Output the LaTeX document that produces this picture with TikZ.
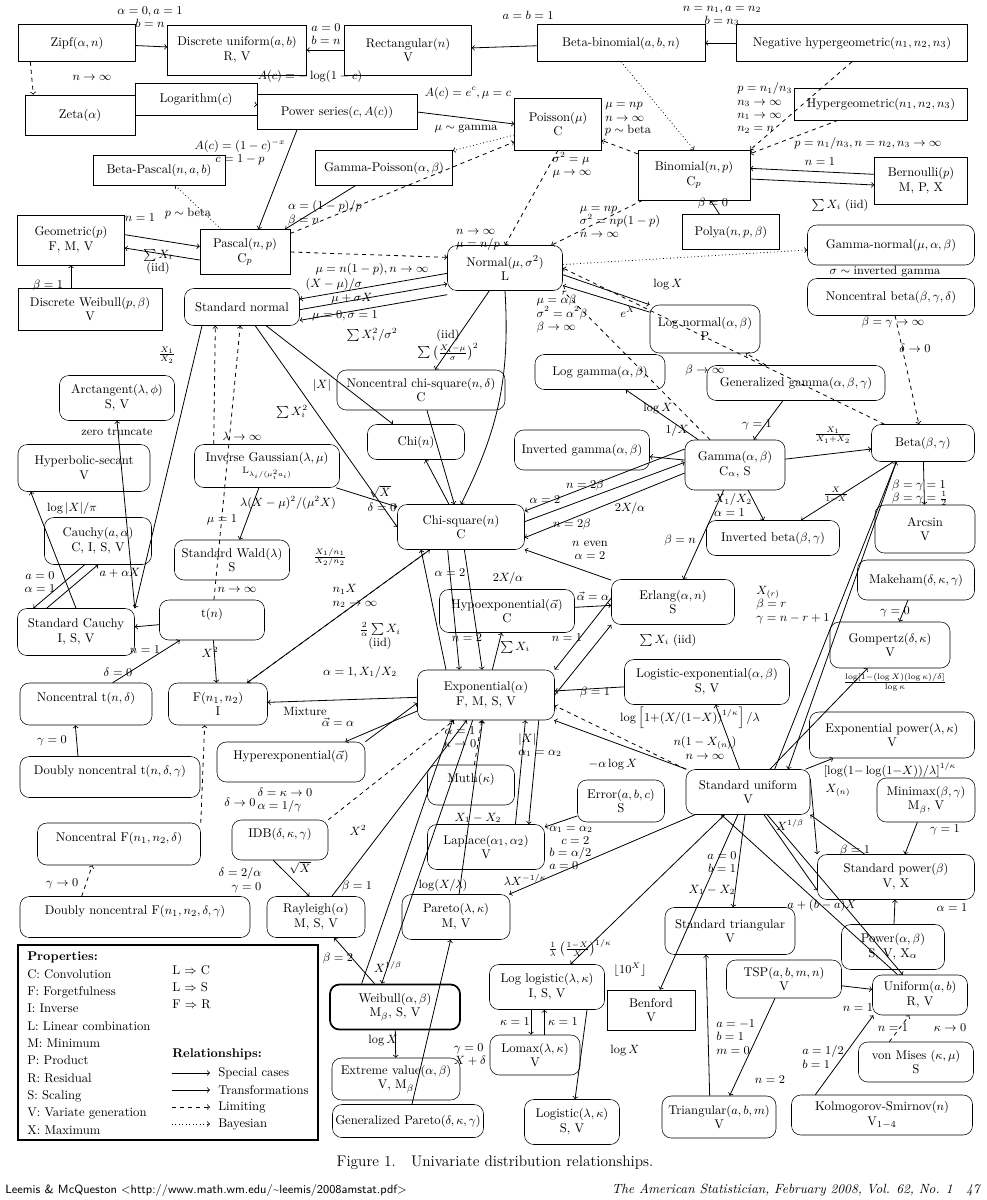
\documentclass[tikz,border=0pt]{standalone}
\usepackage{amsmath}
\usetikzlibrary{arrows.meta}
\tikzset{
  sb/.style={draw,inner sep=1pt,align=center,font=\fontsize{9.5}{11}\selectfont},
  rb/.style={sb,rounded corners=7pt},
  lb/.style={inner sep=0pt,font=\fontsize{9}{10}\selectfont,align=center},
  sc/.style={->,semithick},
  lim/.style={->,semithick,dashed},
  bay/.style={->,semithick,dotted}}
\begin{document}
\begin{tikzpicture}[x=0.75pt,y=-0.75pt,>=to]
\useasboundingbox (0,0) rectangle (987,1200);
% ---------- nodes ----------
\node[sb,minimum width=117*.75pt,minimum height=37*.75pt] (zipf) at (77,43) {Zipf$(\alpha,n)$};
\node[sb,minimum width=139*.75pt,minimum height=50*.75pt] (dunif) at (237,50) {Discrete uniform$(a,b)$\\R, V};
\node[sb,minimum width=127*.75pt,minimum height=50*.75pt] (rect) at (408,50) {Rectangular$(n)$\\V};
\node[sb,minimum width=168*.75pt,minimum height=37*.75pt] (bbin) at (621,43) {Beta-binomial$(a,b,n)$};
\node[sb,minimum width=231*.75pt,minimum height=37*.75pt] (neghyp) at (852,43) {Negative hypergeometric$(n_1,n_2,n_3)$};
\node[sb,minimum width=110*.75pt,minimum height=40*.75pt] (zeta) at (80,115) {Zeta$(\alpha)$};
\node[sb,minimum width=122*.75pt,minimum height=32*.75pt] (loga) at (196,99) {Logarithm$(c)$};
\node[sb,minimum width=160*.75pt,minimum height=35*.75pt] (pser) at (337,112) {Power series$(c,A(c))$};
\node[sb,minimum width=87*.75pt,minimum height=52*.75pt] (pois) at (558,124) {Poisson$(\mu)$\\C};
\node[sb,minimum width=173*.75pt,minimum height=32*.75pt] (hyper) at (881,104) {Hypergeometric$(n_1,n_2,n_3)$};
\node[sb,minimum width=137*.75pt,minimum height=35*.75pt] (gp) at (384,168) {Gamma-Poisson$(\alpha,\beta)$};
\node[sb,minimum width=132*.75pt,minimum height=30*.75pt] (bpas) at (159,170) {Beta-Pascal$(n,a,b)$};
\node[sb,minimum width=112*.75pt,minimum height=50*.75pt] (binom) at (694,175) {Binomial$(n,p)$\\C$_p$};
\node[sb,minimum width=93*.75pt,minimum height=47*.75pt] (bern) at (921,181) {Bernoulli$(p)$\\M, P, X};
\node[sb,minimum width=107*.75pt,minimum height=50*.75pt] (geom) at (71,240) {Geometric$(p)$\\F, M, V};
\node[sb,minimum width=90*.75pt,minimum height=45*.75pt] (pascal) at (245,252) {Pascal$(n,p)$\\C$_p$};
\node[sb,minimum width=97*.75pt,minimum height=35*.75pt] (polya) at (731,232) {Polya$(n,p,\beta)$};
\node[sb,minimum width=144*.75pt,minimum height=42*.75pt] (dweib) at (90,309) {Discrete Weibull$(p,\beta)$\\V};
\node[rb,minimum width=115*.75pt,minimum height=45*.75pt] (normal) at (505,268) {Normal$(\mu,\sigma^2)$\\L};
\node[rb,minimum width=167*.75pt,minimum height=40*.75pt] (gnorm) at (891,245) {Gamma-normal$(\mu,\alpha,\beta)$};
\node[rb,minimum width=115*.75pt,minimum height=37*.75pt] (snorm) at (242,307) {Standard normal};
\node[rb,minimum width=167*.75pt,minimum height=37*.75pt] (ncbeta) at (891,297) {Noncentral beta$(\beta,\gamma,\delta)$};
\node[rb,minimum width=110*.75pt,minimum height=48*.75pt] (lnorm) at (705,329) {Log normal$(\alpha,\beta)$\\P};
\node[rb,minimum width=168*.75pt,minimum height=40*.75pt] (ncchi) at (421,390) {Noncentral chi-square$(n,\delta)$\\C};
\node[rb,minimum width=130*.75pt,minimum height=35*.75pt] (lgam) at (600,372) {Log gamma$(\alpha,\beta)$};
\node[rb,minimum width=178*.75pt,minimum height=35*.75pt] (ggam) at (796,383) {Generalized gamma$(\alpha,\beta,\gamma)$};
\node[rb,minimum width=115*.75pt,minimum height=45*.75pt] (arctan) at (117,398) {Arctangent$(\lambda,\phi)$\\S, V};
\node[rb,minimum width=132*.75pt,minimum height=47*.75pt] (hsec) at (84,468) {Hyperbolic-secant\\V};
\node[rb,minimum width=97*.75pt,minimum height=35*.75pt] (chi) at (416,442) {Chi$(n)$};
\node[rb,minimum width=145*.75pt,minimum height=43*.75pt] (ig) at (267,466) {Inverse Gaussian$(\lambda,\mu)$\\[-2pt]{\scriptsize L$_{\lambda_i/(\mu_i^2a_i)}$}};
\node[rb,minimum width=135*.75pt,minimum height=40*.75pt] (igam) at (582,450) {Inverted gamma$(\alpha,\beta)$};
\node[rb,minimum width=100*.75pt,minimum height=50*.75pt] (gamma) at (735,465) {Gamma$(\alpha,\beta)$\\C$_\alpha$, S};
\node[rb,minimum width=103*.75pt,minimum height=37*.75pt] (beta) at (923,443) {Beta$(\beta,\gamma)$};
\node[rb,minimum width=107*.75pt,minimum height=47*.75pt] (cauchy) at (98,541) {Cauchy$(a,\alpha)$\\C, I, S, V};
\node[rb,minimum width=127*.75pt,minimum height=45*.75pt] (chisq) at (461,527) {Chi-square$(n)$\\C};
\node[rb,minimum width=133*.75pt,minimum height=35*.75pt] (ibeta) at (773,538) {Inverted beta$(\beta,\gamma)$};
\node[rb,minimum width=100*.75pt,minimum height=48*.75pt] (arcsin) at (925,529) {Arcsin\\V};
\node[rb,minimum width=115*.75pt,minimum height=40*.75pt] (wald) at (232,560) {Standard Wald$(\lambda)$\\S};
\node[rb,minimum width=117*.75pt,minimum height=40*.75pt] (makeham) at (916,580) {Makeham$(\delta,\kappa,\gamma)$};
\node[rb,minimum width=117*.75pt,minimum height=47*.75pt] (scauchy) at (76,632) {Standard Cauchy\\I, S, V};
\node[rb,minimum width=105*.75pt,minimum height=40*.75pt] (tn) at (212,620) {t$(n)$\\\phantom{I}};
\node[rb,minimum width=135*.75pt,minimum height=43*.75pt] (hypo) at (507,611) {Hypoexponential$(\vec\alpha)$\\C};
\node[rb,minimum width=123*.75pt,minimum height=45*.75pt] (erlang) at (673,602) {Erlang$(\alpha,n)$\\S};
\node[rb,minimum width=120*.75pt,minimum height=46*.75pt] (gomp) at (890,645) {Gompertz$(\delta,\kappa)$\\V};
\node[rb,minimum width=132*.75pt,minimum height=42*.75pt] (nct) at (86,704) {Noncentral t$(n,\delta)$\\\phantom{I}};
\node[rb,minimum width=99*.75pt,minimum height=42*.75pt] (fdist) at (218,704) {F$(n_1,n_2)$\\I};
\node[rb,minimum width=137*.75pt,minimum height=50*.75pt] (expo) at (486,695) {Exponential$(\alpha)$\\F, M, S, V};
\node[rb,minimum width=165*.75pt,minimum height=45*.75pt] (logexp) at (707,682) {Logistic-exponential$(\alpha,\beta)$\\S, V};
\node[rb,minimum width=165*.75pt,minimum height=46*.75pt] (exppow) at (892,735) {Exponential power$(\lambda,\kappa)$\\V};
\node[rb,minimum width=148*.75pt,minimum height=40*.75pt] (hyperexp) at (291,762) {Hyperexponential$(\vec\alpha)$\\\phantom{I}};
\node[rb,minimum width=180*.75pt,minimum height=41*.75pt] (dnct) at (110,777) {Doubly noncentral t$(n,\delta,\gamma)$\\\phantom{I}};
\node[rb,minimum width=87*.75pt,minimum height=40*.75pt] (muth) at (471,785) {Muth$(\kappa)$\\\phantom{I}};
\node[rb,minimum width=124*.75pt,minimum height=45*.75pt] (sunif) at (748,792) {Standard uniform\\V};
\node[rb,minimum width=98*.75pt,minimum height=44*.75pt] (minimax) at (926,800) {Minimax$(\beta,\gamma)$\\M$_\beta$, V};
\node[rb,minimum width=87*.75pt,minimum height=42*.75pt] (error) at (621,801) {Error$(a,b,c)$\\S};
\node[rb,minimum width=96*.75pt,minimum height=40*.75pt] (idb) at (280,840) {IDB$(\delta,\kappa,\gamma)$\\\phantom{I}};
\node[rb,minimum width=163*.75pt,minimum height=42*.75pt] (ncf) at (119,844) {Noncentral F$(n_1,n_2,\delta)$\\\phantom{I}};
\node[rb,minimum width=117*.75pt,minimum height=45*.75pt] (laplace) at (486,847) {Laplace$(\alpha_1,\alpha_2)$\\V};
\node[rb,minimum width=157*.75pt,minimum height=45*.75pt] (spow) at (896,877) {Standard power$(\beta)$\\V, X};
\node[rb,minimum width=230*.75pt,minimum height=41*.75pt] (dncf) at (135,917) {Doubly noncentral F$(n_1,n_2,\delta,\gamma)$\\\phantom{I}};
\node[rb,minimum width=98*.75pt,minimum height=41*.75pt] (rayl) at (316,917) {Rayleigh$(\alpha)$\\M, S, V};
\node[rb,minimum width=108*.75pt,minimum height=45*.75pt] (pareto) at (456,917) {Pareto$(\lambda,\kappa)$\\M, V};
\node[rb,minimum width=130*.75pt,minimum height=47*.75pt] (stri) at (730,931) {Standard triangular\\V};
\node[rb,minimum width=103*.75pt,minimum height=45*.75pt] (power) at (893,947) {Power$(\alpha,\beta)$\\S, V, X$_\alpha$};
\node[rb,minimum width=130*.75pt,minimum height=45*.75pt,line width=1.3pt] (weib) at (395,1007) {Weibull$(\alpha,\beta)$\\M$_\beta$, S, V};
\node[rb,minimum width=115*.75pt,minimum height=45*.75pt] (llog) at (547,987) {Log logistic$(\lambda,\kappa)$\\I, S, V};
\node[sb,minimum width=88*.75pt,minimum height=40*.75pt] (benford) at (651,1010) {Benford\\V};
\node[rb,minimum width=115*.75pt,minimum height=38*.75pt] (tsp) at (784,979) {TSP$(a,b,m,n)$\\V};
\node[rb,minimum width=95*.75pt,minimum height=40*.75pt] (unif) at (920,995) {Uniform$(a,b)$\\R, V};
\node[rb,minimum width=90*.75pt,minimum height=40*.75pt] (lomax) at (535,1055) {Lomax$(\lambda,\kappa)$\\V};
\node[rb,minimum width=128*.75pt,minimum height=42*.75pt] (ev) at (396,1079) {Extreme value$(\alpha,\beta)$\\V, M$_\beta$};
\node[rb,minimum width=115*.75pt,minimum height=40*.75pt] (vonm) at (916,1062) {von Mises $(\kappa,\mu)$\\S};
\node[rb,minimum width=151*.75pt,minimum height=33*.75pt] (gpar) at (408,1121) {Generalized Pareto$(\delta,\kappa,\gamma)$};
\node[rb,minimum width=95*.75pt,minimum height=45*.75pt] (logis) at (572,1122) {Logistic$(\lambda,\kappa)$\\S, V};
\node[rb,minimum width=114*.75pt,minimum height=42*.75pt] (tri) at (719,1117) {Triangular$(a,b,m)$\\V};
\node[rb,minimum width=181*.75pt,minimum height=40*.75pt] (ks) at (882,1115) {Kolmogorov-Smirnov$(n)$\\V$_{1-4}$};
% ---------- legend ----------
\node[draw,line width=1.2pt,minimum width=300*.75pt,minimum height=195*.75pt,inner sep=0pt] (legend) at (168,1042.5) {};
\node[lb,anchor=north west,align=left,font=\fontsize{9.5}{13}\selectfont] (props) at (27,952)
 {\textbf{Properties:}\\C: Convolution\\F: Forgetfulness\\I: Inverse\\L: Linear combination\\M: Minimum\\P: Product\\R: Residual\\S: Scaling\\V: Variate generation\\X: Maximum};
\node[lb,anchor=north west,align=left,font=\fontsize{9.5}{13}\selectfont] (imps) at (172,965) {L $\Rightarrow$ C\\L $\Rightarrow$ S\\F $\Rightarrow$ R};
\node[lb,anchor=west,font=\fontsize{9.5}{11}\selectfont\bfseries] (rel) at (172,1054) {Relationships:};
\node[lb,anchor=west,font=\fontsize{9.5}{11}\selectfont] (r1) at (218,1073) {Special cases};
\node[lb,anchor=west,font=\fontsize{9.5}{11}\selectfont] (r2) at (218,1090) {Transformations};
\node[lb,anchor=west,font=\fontsize{9.5}{11}\selectfont] (r3) at (218,1107) {Limiting};
\node[lb,anchor=west,font=\fontsize{9.5}{11}\selectfont] (r4) at (218,1124) {Bayesian};
\coordinate (a1) at (172,1073); \coordinate (b1) at (210,1073);
\coordinate (a2) at (172,1090); \coordinate (b2) at (210,1090);
\coordinate (a3) at (172,1107); \coordinate (b3) at (210,1107);
\coordinate (a4) at (172,1124); \coordinate (b4) at (210,1124);
\draw[sc] (a1)--(b1); \draw[sc] (a2)--(b2); \draw[lim] (a3)--(b3); \draw[bay] (a4)--(b4);
% caption and footer
\node[lb,font=\fontsize{11.5}{13}\selectfont] (cap) at (495,1163) {Figure 1.\quad Univariate distribution relationships.};
\node[lb,anchor=west,font=\sffamily\fontsize{9}{10}\selectfont] (foot1) at (5,1190) {Leemis \& McQueston <http://www.math.wm.edu/\~{}leemis/2008amstat.pdf>};
\node[lb,anchor=east,font=\itshape\fontsize{10}{11}\selectfont] (foot2) at (980,1190) {The American Statistician, February 2008, Vol. 62, No. 1\quad 47};
% ---------- edges ----------
\draw[sc] (zipf) -- (dunif); \node[lb] (l1) at (150,17) {$\alpha=0,a=1$\\$b=n$};
\draw[lim] ([xshift=-35]zipf.south) -- ([xshift=-35]zeta.north);
\node[lb] (l2) at (92,78) {$n\to\infty$};
\draw[sc] (rect) -- (dunif); \node[lb] (l3) at (326,34) {$a=0$\\$b=n$};
\draw[sc] (bbin) -- (rect); \node[lb] (l4) at (528,15) {$a=b=1$};
\draw[sc] (neghyp) -- (bbin); \node[lb] (l5) at (722,16) {$n=n_1,a=n_2$\\$b=n_3$};
\draw[lim] (neghyp.south) -- (binom.north east); \node[lb,anchor=west,align=left] (l6) at (737,108) {$p=n_1/n_3$\\$n_3\to\infty$\\$n_1\to\infty$\\$n_2=n$};
\draw[lim] (hyper) -- (binom); \node[lb] (l7) at (868,143) {$p=n_1/n_3,n=n_2,n_3\to\infty$};
\draw[bay] (bbin.south) -- (binom.north); \node[lb] (l8) at (628,130) {$p\sim\text{beta}$};
\draw[sc] (pser) -- (loga); \node[lb] (l9) at (310,76) {$A(c)=-\log(1-c)$};
\draw[sc] (pser.east) -- (pois.west); \node[lb] (l10) at (468,93) {$A(c)=e^c,\mu=c$};
\draw[sc] ([xshift=-30]pser.south) -- ([xshift=10]pascal.north); \node[lb] (l11) at (240,152) {$A(c)=(1-c)^{-x}$\\$c=1-p$};
\draw[bay] (pois) -- (gp); \node[lb] (l12) at (466,129) {$\mu\sim\text{gamma}$};
\draw[sc] (gp) -- ([xshift=30]pascal.north); \node[lb,align=left] (l13) at (325,213) {$\alpha=(1-p)/p$\\$\beta=n$};
\draw[lim] (binom) -- (pois); \node[lb,anchor=west,align=left] (l14) at (605,112) {$\mu=np$\\$n\to\infty$};
\draw[lim] (pois.south) -- (normal.north); \node[lb,align=left] (l15) at (572,165) {$\sigma^2=\mu$\\$\mu\to\infty$};
\draw[lim] (binom) -- (normal); \node[lb,align=left] (l16) at (620,222) {$\mu=np$\\$\sigma^2=np(1-p)$\\$n\to\infty$};
\draw[lim] (pascal) -- (pois); \node[lb,align=left] (l17) at (478,240) {$n\to\infty$\\$\mu=n/p$};
\draw[lim] (pascal.east) -- ([yshift=8]normal.west); \node[lb] (l18) at (372,269) {$\mu=n(1-p),n\to\infty$};
\draw[bay] (pascal) -- (bpas); \node[lb] (l19) at (188,213) {$p\sim\text{beta}$};
\draw[sc] ([yshift=-3]binom.east) -- ([yshift=-3]bern.west); \node[lb] (l20) at (820,162) {$n=1$};
\draw[sc] ([yshift=5]bern.west) -- ([yshift=5]binom.east); \node[lb] (l21) at (840,205) {$\sum X_i$ (iid)};
\draw[sc] (polya) -- (binom); \node[lb] (l22) at (713,203) {$\beta=0$};
\draw[sc] ([yshift=-6]pascal.west) -- ([yshift=-6]geom.east); \node[lb] (l23) at (140,218) {$n=1$};
\draw[sc] ([yshift=4]geom.east) -- ([yshift=4]pascal.west); \node[lb] (l24) at (158,262) {$\sum X_i$\\(iid)};
\draw[sc] (dweib.north-|geom) -- (geom.south); \node[lb] (l25) at (48,285) {$\beta=1$};
\draw[sc] ([yshift=-4]normal.west) -- ([yshift=6]snorm.east); \node[lb] (l26) at (334,284) {$(X-\mu)/\sigma$};
\draw[sc] ([yshift=-2]snorm.east) -- ([yshift=-12]normal.west); \node[lb] (l27) at (352,299) {$\mu+\sigma X$};
\draw[sc] ([yshift=-20]normal.west) -- ([yshift=-10]snorm.east); \node[lb] (l28) at (345,316) {$\mu=0,\sigma=1$};
\draw[sc] (normal) -- (ncchi); \node[lb] (l29) at (372,335) {$\sum X_i^2/\sigma^2$};
\draw[sc] (normal.south) to[bend left=15] (chisq.north); \node[lb] (l30) at (448,345) {(iid)\\$\sum\left(\frac{X_i-\mu}{\sigma}\right)^2$};
\draw[bay] (normal) -- (gnorm); \node[lb] (l31) at (885,272) {$\sigma\sim\text{inverted gamma}$};
\draw[sc] ([yshift=-5]normal.east) -- (lnorm.north west); \node[lb] (l32) at (668,284) {$\log X$};
\draw[sc] (lnorm) -- (normal); \node[lb] (l33) at (628,312) {$e^X$};
\draw[lim] (gamma) -- (normal.south east); \node[lb,align=left] (l34) at (562,314) {$\mu=\alpha\beta$\\$\sigma^2=\alpha^2\beta$\\$\beta\to\infty$};
\draw[lim] (beta) -- (normal.east); \node[lb] (l35) at (893,322) {$\beta=\gamma\to\infty$};
\draw[lim] (ncbeta) -- (beta); \node[lb] (l36) at (915,348) {$\delta\to0$};
\draw[lim] (ggam) -- (lnorm); \node[lb] (l37) at (705,370) {$\beta\to\infty$};
\draw[sc] (gamma) -- (lgam); \node[lb] (l38) at (658,408) {$\log X$};
\draw[sc] (ggam) -- (gamma); \node[lb] (l39) at (757,425) {$\gamma=1$};
\draw[sc] (gamma) -- (igam); \node[lb] (l40) at (677,430) {$1/X$};
\draw[sc] (gamma) -- (beta); \node[lb] (l41) at (833,435) {$\frac{X_1}{X_1+X_2}$};
\draw[sc] (beta) -- (arcsin); \node[lb,align=left] (l42) at (920,493) {$\beta=\gamma=1$\\$\beta=\gamma=\frac12$};
\draw[sc] (beta) -- (ibeta); \node[lb] (l43) at (836,495) {$\frac{X}{1-X}$};
\draw[sc] (gamma) -- (ibeta); \node[lb,align=left] (l44) at (733,505) {$X_1/X_2$\\$\alpha=1$};
\draw[sc] ([yshift=-6]gamma.west) -- ([yshift=-8]chisq.east); \node[lb] (l45) at (585,485) {$n=2\beta$};
\draw[sc] ([yshift=4]chisq.east) -- ([yshift=2]gamma.west); \node[lb] (l46) at (545,500) {$\alpha=2$};
\draw[sc] ([yshift=12]gamma.west) -- ([yshift=12]chisq.east); \node[lb] (l47) at (572,524) {$n=2\beta$};
\node[lb] (l48) at (630,508) {$2X/\alpha$};
\draw[sc] (gamma) -- (erlang); \node[lb] (l49) at (680,540) {$\beta=n$};
\draw[sc] (erlang) -- (chisq); \node[lb] (l50) at (590,550) {$n$ even\\$\alpha=2$};
\draw[sc] (ncchi) -- (chisq); \node[lb] (l51) at (382,507) {$\delta=0$};
\draw[sc] (chisq) -- (chi); \node[lb] (l52) at (380,492) {$\sqrt X$};
\draw[sc] (snorm) -- (chi); \node[lb] (l53) at (322,385) {$|X|$};
\draw[sc] (snorm) -- (chisq.west); \node[lb] (l54) at (292,412) {$\sum X_i^2$};
\draw[sc] (ig) -- (chisq); \node[lb] (l55) at (288,503) {$\lambda(X-\mu)^2/(\mu^2X)$};
\draw[sc] (ig) -- (wald); \node[lb] (l56) at (222,520) {$\mu=1$};
\draw[lim] ([xshift=-40]ig.north) -- ([xshift=-20]snorm.south); \node[lb] (l57) at (242,436) {$\lambda\to\infty$};
\draw[sc] (chisq) -- (fdist); \node[lb] (l58) at (330,557) {$\frac{X_1/n_1}{X_2/n_2}$};
\draw[lim] (fdist) -- (chisq); \node[lb,align=left] (l59) at (355,596) {$n_1X$\\$n_2\to\infty$};
\draw[lim] (tn) -- (snorm); \node[lb] (l60) at (237,590) {$n\to\infty$};
\draw[sc] (tn) -- (scauchy); \node[lb] (l61) at (145,650) {$n=1$};
\draw[sc] (tn) -- (fdist); \node[lb] (l62) at (210,652) {$X^2$};
\draw[sc] ([xshift=-30]snorm.south) -- (scauchy.north east); \node[lb] (l63) at (167,355) {$\frac{X_1}{X_2}$};
\draw[sc] (scauchy.north east) -- (arctan.south); \node[lb] (l64) at (117,432) {zero truncate};
\draw[sc] (scauchy.north) -- ([xshift=-40]hsec.south); \node[lb] (l65) at (72,508) {$\log|X|/\pi$};
\draw[sc] ([xshift=-10]cauchy.south) -- ([xshift=-32]scauchy.north); \node[lb] (l66) at (40,582) {$a=0$\\$\alpha=1$};
\draw[sc] ([xshift=-22]scauchy.north) -- (cauchy.south); \node[lb] (l67) at (120,573) {$a+\alpha X$};
\draw[sc] ([xshift=20]nct.north) -- (tn); \node[lb] (l68) at (118,672) {$\delta=0$};
\draw[sc] ([xshift=-24]dnct.north) -- ([xshift=-8]nct.south); \node[lb] (l69) at (52,741) {$\gamma=0$};
\draw[lim] (ncf.north east) -- ([xshift=-10]fdist.south); \node[lb] (l70) at (240,802) {$\delta\to0$};
\draw[lim] ([xshift=-40]dncf.north) -- ([xshift=-20]ncf.south); \node[lb] (l71) at (62,884) {$\gamma\to0$};
\draw[sc] (expo) -- (fdist); \node[lb] (l72) at (360,672) {$\alpha=1,X_1/X_2$};
\draw[sc] (hyperexp.north east) -- ([yshift=-6]expo.west); \node[lb] (l73) at (305,711) {Mixture};
\draw[sc] ([yshift=-12]expo.west) -- ([xshift=-15]hyperexp.north east); \node[lb] (l74) at (338,722) {$\vec\alpha=\alpha$};
\draw[sc] (chisq) -- (expo); \node[lb] (l75) at (450,573) {$\alpha=2$};
\draw[sc] ([xshift=-30]expo.north) -- ([xshift=-30]chisq.south); \node[lb] (l76) at (380,636) {$\frac{2}{\alpha}\sum X_i$\\(iid)};
\draw[sc] ([xshift=-10]chisq.south) -- ([xshift=-20]expo.north); \node[lb] (l77) at (467,638) {$n=2$};
\node[lb] (l78) at (508,578) {$2X/\alpha$};
\draw[sc] (expo) -- (hypo); \node[lb] (l79) at (515,647) {$\sum X_i$};
\draw[sc] (hypo) -- (erlang); \node[lb] (l80) at (593,596) {$\vec\alpha=\alpha$};
\draw[sc] ([yshift=3]erlang.west) -- (expo.north east); \node[lb] (l81) at (567,638) {$n=1$};
\draw[sc] (expo.east) -- (erlang.south west); \node[lb] (l82) at (668,640) {$\sum X_i$ (iid)};
\draw[sc] (logexp) -- (expo); \node[lb] (l83) at (595,692) {$\beta=1$};
\draw[sc] (sunif) -- (logexp); \node[lb] (l84) at (690,718) {$\log\left[1{+}(X/(1{-}X))^{1/\kappa}\right]/\lambda$};
\draw[sc] (sunif) -- (expo); \node[lb] (l85) at (613,764) {$-\alpha\log X$};
\draw[lim] (sunif.north west) -- ([yshift=-8]expo.east); \node[lb] (l86) at (705,748) {$n(1-X_{(n)})$\\$n\to\infty$};
\draw[lim] (muth) -- (expo); \node[lb] (l87) at (460,737) {$\alpha=1$\\$\kappa\to0$};
\draw[sc] ([xshift=-12]expo.south east) -- ([xshift=-12]laplace.north east); \node[lb,align=left] (l88) at (540,745) {$|X|$\\$\alpha_1=\alpha_2$};
\draw[sc] ([xshift=-22]laplace.north east) -- ([xshift=-22]expo.south east); \node[lb] (l89) at (478,818) {$X_1-X_2$};
\draw[sc] (error) -- (laplace); \node[lb,anchor=west,align=left,font=\fontsize{9}{9.5}\selectfont] (l90) at (549,848) {$\alpha_1=\alpha_2$\\\quad$c=2$\\$b=\alpha/2$\\$a=0$};
\draw[lim] (idb.north east) -- (expo); \node[lb,align=left] (l91) at (285,800) {$\delta=\kappa\to0$\\$\alpha=1/\gamma$};
\draw[sc] ([xshift=-5]idb.south) -- ([xshift=-5]rayl.north); \node[lb,align=right] (l92) at (240,880) {$\delta=2/\alpha$\\$\gamma=0$};
\draw[sc] (rayl) -- (expo); \node[lb] (l93) at (358,830) {$X^2$};
\node[lb] (l94) at (300,868) {$\sqrt X$};
\draw[sc] (weib) -- (rayl); \node[lb] (l95) at (338,958) {$\beta=2$};
\draw[sc] ([xshift=-25]weib.north) -- ([xshift=-25]expo.south); \node[lb] (l96) at (357,886) {$\beta=1$};
\draw[sc] ([xshift=-10]expo.south) -- ([xshift=-10]weib.north); \node[lb] (l97) at (388,967) {$X^{1/\beta}$};
\draw[sc] (pareto) -- (expo); \node[lb] (l98) at (443,885) {$\log(X/\lambda)$};
\draw[sc] (sunif) -- (pareto); \node[lb] (l99) at (525,880) {$\lambda X^{-1/\kappa}$};
\draw[sc] (sunif) -- (llog); \node[lb] (l100) at (580,948) {$\frac1\lambda\left(\frac{1-X}{X}\right)^{1/\kappa}$};
\draw[sc] (sunif) -- (benford); \node[lb] (l101) at (630,970) {$\lfloor10^X\rfloor$};
\draw[sc] (sunif) -- (stri); \node[lb] (l102) at (712,890) {$X_1-X_2$};
\draw[sc] (sunif) -- (unif); \node[lb] (l103) at (822,905) {$a+(b-a)X$};
\draw[sc] (unif) -- ([xshift=-20]sunif.south); \node[lb] (l104) at (722,862) {$a=0$\\$b=1$};
\draw[sc] (sunif) -- ([yshift=-10]spow.west); \node[lb] (l105) at (838,790) {$X_{(n)}$};
\draw[sc] ([yshift=10]sunif.east) -- (spow.north west); \node[lb] (l106) at (790,825) {$X^{1/\beta}$};
\draw[sc] (spow) -- (sunif.south east); \node[lb] (l107) at (855,850) {$\beta=1$};
\draw[sc] (minimax) -- (spow); \node[lb] (l108) at (945,830) {$\gamma=1$};
\draw[sc] (power) -- (spow); \node[lb] (l109) at (952,908) {$\alpha=1$};
\draw[sc] (makeham) -- (gomp); \node[lb] (l110) at (895,612) {$\gamma=0$};
\draw[sc] (sunif) -- (gomp); \node[lb] (l111) at (895,682) {$\frac{\log[1-(\log X)(\log\kappa)/\delta]}{\log\kappa}$};
\draw[sc] (sunif) -- (exppow); \node[lb] (l112) at (890,770) {$[\log(1{-}\log(1{-}X))/\lambda]^{1/\kappa}$};
\draw[sc] ([xshift=20]sunif.north) -- ([xshift=-20]beta.south); \node[lb,align=left] (l113) at (793,605) {$X_{(r)}$\\$\beta=r$\\$\gamma=n-r+1$};
\draw[sc] ([xshift=-20]beta.south) -- ([xshift=30]sunif.north);
\draw[sc] ([xshift=-12]llog.south) -- ([xshift=-12]lomax.north -| llog.south); \node[lb] (l114) at (515,1022) {$\kappa=1$};
\draw[sc] ([xshift=-2]lomax.north -| llog.south) -- ([xshift=-2]llog.south); \node[lb] (l114b) at (563,1022) {$\kappa=1$};
\draw[sc] ([xshift=30]llog.south) -- (logis); \node[lb] (l115) at (625,1050) {$\log X$};
\draw[sc] (tsp) -- ([xshift=8]tri.north); \node[lb] (l116) at (770,1080) {$n=2$};
\draw[sc] ([xshift=-7]tri.north) -- ([xshift=-18]stri.south); \node[lb,anchor=west,align=left] (l117) at (716,1037) {$a=-1$\\$b=1$\\$m=0$};
\draw[sc] (tsp) -- (unif); \node[lb] (l118) at (858,1008) {$n=1$};
\draw[sc] ([xshift=-50]ks.north) -- ([xshift=-35]unif.south); \node[lb,align=left] (l119) at (823,1057) {$a=1/2$\\$b=1$};
\draw[lim] ([xshift=-20]vonm.north) -- ([xshift=-8]unif.south); \node[lb] (l120) at (950,1028) {$\kappa\to0$};
\node[lb] (l121) at (893,1028) {$n=1$};
\draw[sc] (weib) -- (ev); \node[lb] (l122) at (383,1040) {$\log X$};
\draw[sc] (gpar) -- (pareto); \node[lb,align=left] (l123) at (470,1055) {$\gamma=0$\\$X+\delta$};
\end{tikzpicture}
\end{document}
